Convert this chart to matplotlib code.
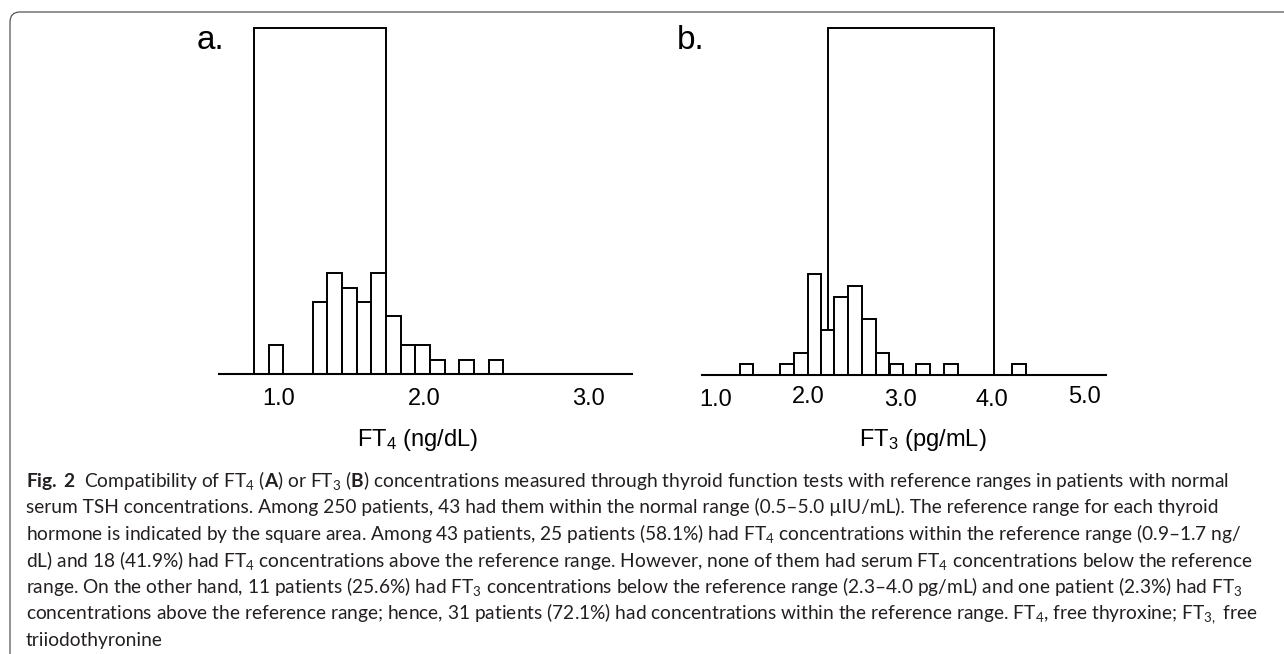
import matplotlib
matplotlib.use('Agg')
import matplotlib.pyplot as plt
from matplotlib.patches import FancyBboxPatch
from matplotlib.transforms import IdentityTransform

W, H = 1284, 654

# ---- data ----
# panel a: FT4 (ng/dL), 0.1 wide bins
ft4_bins = [1.0, 1.3, 1.4, 1.5, 1.6, 1.7, 1.8, 1.9, 2.0, 2.1, 2.3, 2.5]
ft4_counts = [2, 5, 7, 6, 5, 7, 4, 2, 2, 1, 1, 1]
ft4_width = 0.1
ft4_ref = (0.85, 1.75)          # reference box edges
ft4_ref_height = 24
ft4_ticks = [1.02, 2.01, 3.13]
ft4_ticklabels = ['1.0', '2.0', '3.0']

# panel b: FT3 (pg/mL)
ft3_bins = [1.33, 1.77, 1.92, 2.07, 2.21, 2.36, 2.51, 2.66, 2.81, 2.96, 3.25, 3.55, 4.29]
ft3_counts = [1, 1, 2, 9, 4, 7, 8, 5, 2, 1, 1, 1, 1]
ft3_width = 0.148
ft3_ref = (2.215, 4.02)
ft3_ref_height = 31
ft3_ticks = [1.0, 2.0, 3.0, 4.0, 5.0]
ft3_ticklabels = ['1.0', '2.0', '3.0', '4.0', '5.0']
ft3_tick_dy = [0, 3, 0, 0, 3]   # some labels sit a little higher

caption_lines = [
    r"$\mathbf{Fig.\,2}$  Compatibility of FT$_4$ ($\mathbf{A}$) or FT$_3$ ($\mathbf{B}$) concentrations measured through thyroid function tests with reference ranges in patients with normal",
    "serum TSH concentrations. Among 250 patients, 43 had them within the normal range (0.5–5.0 µIU/mL). The reference range for each thyroid",
    "hormone is indicated by the square area. Among 43 patients, 25 patients (58.1%) had FT$_4$ concentrations within the reference range (0.9–1.7 ng/",
    "dL) and 18 (41.9%) had FT$_4$ concentrations above the reference range. However, none of them had serum FT$_4$ concentrations below the reference",
    "range. On the other hand, 11 patients (25.6%) had FT$_3$ concentrations below the reference range (2.3–4.0 pg/mL) and one patient (2.3%) had FT$_3$",
    "concentrations above the reference range; hence, 31 patients (72.1%) had concentrations within the reference range. FT$_4$, free thyroxine; FT$_{3,}$ free",
    "triiodothyronine",
]
caption_line_ends = [1238, 1218, 1250, 1255, 1243, 1247, None]

plt.rcParams['font.family'] = ['Liberation Sans', 'DejaVu Sans']
plt.rcParams['mathtext.default'] = 'regular'
plt.rcParams['mathtext.fontset'] = 'custom'
plt.rcParams['mathtext.rm'] = 'Lato'
plt.rcParams['mathtext.bf'] = 'Lato:bold'

fig = plt.figure(figsize=(W / 100, H / 100), dpi=100)


def px_axes(left, right, bottom, top):
    return fig.add_axes([left / W, 1 - bottom / H, (right - left) / W, (bottom - top) / H])


def panel(ax, bins, counts, width, ref, ref_h, xlim, ylim, ticks, labels, dys):
    ax.bar(ref[0], ref_h, width=ref[1] - ref[0], align='edge', facecolor='none',
           edgecolor='black', linewidth=1.4, zorder=1)
    ax.bar(bins, counts, width=width, facecolor='white', edgecolor='black',
           linewidth=1.4, zorder=2)
    ax.set_xlim(*xlim)
    ax.set_ylim(*ylim)
    for s in ['left', 'right', 'top']:
        ax.spines[s].set_visible(False)
    ax.spines['bottom'].set_linewidth(1.5)
    ax.spines['bottom'].set_zorder(3)
    ax.set_xticks([])
    ax.set_yticks([])
    ax.patch.set_visible(False)
    for x, lab, dy in zip(ticks, labels, dys):
        ax.annotate(lab, xy=(x, 0), xycoords=('data', 'axes fraction'),
                    xytext=(0, -10 + dy * 0.72), textcoords='offset points',
                    ha='center', va='top', fontsize=17)


ax_a = px_axes(219, 632, 374, 14)
panel(ax_a, ft4_bins, ft4_counts, ft4_width, ft4_ref, ft4_ref_height,
      (0.611, 3.428), (0, 25.0), ft4_ticks, ft4_ticklabels, [0, 0, 0])

ax_b = px_axes(701.7, 1106, 375, 15)
panel(ax_b, ft3_bins, ft3_counts, ft3_width, ft3_ref, ft3_ref_height,
      (0.845, 5.235), (0, 32.2), ft3_ticks, ft3_ticklabels, ft3_tick_dy)

# panel letters and axis titles
fig.text(197 / W, 1 - 49 / H, 'a.', fontsize=24, va='baseline', ha='left')
fig.text(677 / W, 1 - 49 / H, 'b.', fontsize=24, va='baseline', ha='left')
fig.text(417.5 / W, 1 - 446 / H, 'FT$_4$ (ng/dL)', fontsize=17, va='baseline', ha='center')
fig.text(922.5 / W, 1 - 446 / H, 'FT$_3$ (pg/mL)', fontsize=17, va='baseline', ha='center')

# caption, fitted to the width of the reference lines
cap = []
for i, line in enumerate(caption_lines):
    t = fig.text(26 / W, 1 - (487 + 26.5 * i) / H, line, fontsize=12,
                 family=['Lato', 'DejaVu Sans'], color='#231f20',
                 va='baseline', ha='left')
    cap.append(t)
r = fig.canvas.get_renderer()
ratios = [(end - 26) / t.get_window_extent(r).width
          for t, end in zip(cap, caption_line_ends) if end]
scale = sum(ratios) / len(ratios)
for t in cap:
    t.set_fontsize(12 * scale)

# frame around the figure block (rounded top-left corner)
border = FancyBboxPatch((10, -30), W + 40, H - 12 + 30,
                        boxstyle='round,pad=0,rounding_size=10',
                        transform=IdentityTransform(), fill=False,
                        edgecolor='#555555', linewidth=0.9)
fig.add_artist(border)

fig.savefig('out.png', dpi=100)
